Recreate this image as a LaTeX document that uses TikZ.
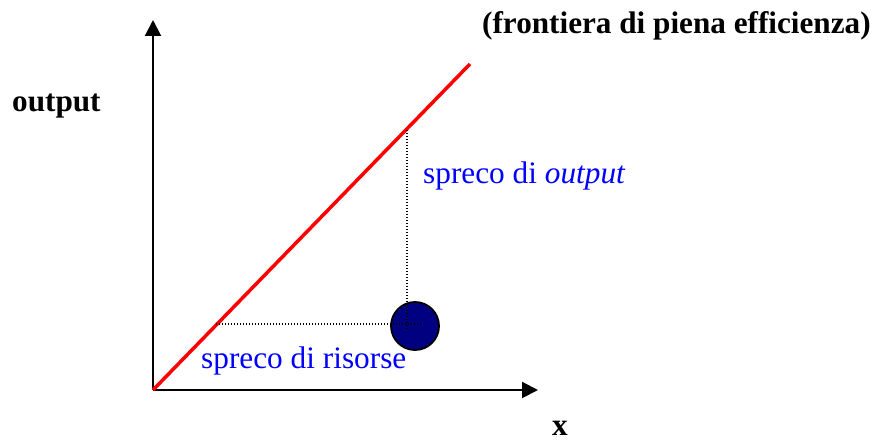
\documentclass[tikz,border=0pt]{standalone}
\usepackage{fontspec}
\setmainfont{Liberation Serif}
\usetikzlibrary{arrows.meta}
\definecolor{dotnavy}{RGB}{0,0,128}
\definecolor{txtblue}{RGB}{0,0,255}
\tikzset{
  axis/.style={line width=2pt,-{Triangle[length=16pt,width=16pt]}},
  frontier/.style={draw=red,line width=3.5pt},
  guide/.style={line width=1.3pt,dash pattern=on 1.3pt off 1.7pt},
  bluelabel/.style={text=txtblue,font=\fontsize{31.3}{36}\selectfont,anchor=base west,inner sep=0pt},
  blacklabel/.style={font=\fontsize{31.2}{36}\selectfont\bfseries,anchor=base west,inner sep=0pt},
}
\begin{document}
\begin{tikzpicture}[x=1pt,y=-1pt]
\useasboundingbox (0,0) rectangle (878,443);
\coordinate (O) at (153,390);
\coordinate (ytip) at (153,20);
\coordinate (xtip) at (538,390);
\coordinate (F) at (470,64);
\coordinate (fy) at (407,130);
\coordinate (fx) at (216,324);
\coordinate (gy) at (407,329);
\coordinate (gx) at (422,324);
\draw[axis] (O) -- (ytip);
\draw[axis] (O) -- (xtip);
\draw[frontier] (O) -- (F);
\node[circle,draw=black,line width=1.8pt,fill=dotnavy,minimum size=48pt,inner sep=0pt] (P) at (415,326) {};
\draw[guide] (fy) -- (gy);
\draw[guide] (fx) -- (gx);
\node[bluelabel] (lr) at (201,369) {spreco di risorse};
\node[bluelabel] (lo) at (423,184) {spreco di \textit{output}};
\node[blacklabel] (lf) at (482,34) {(frontiera di piena efficienza)};
\node[blacklabel] (ly) at (12,112) {output};
\node[blacklabel] (lx) at (552,435) {x};
\end{tikzpicture}
\end{document}
